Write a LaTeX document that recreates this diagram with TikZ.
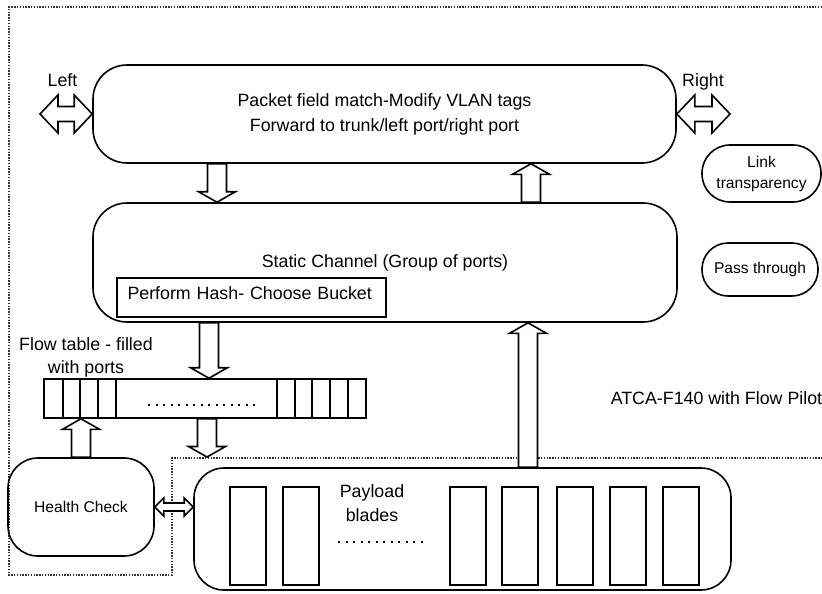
\documentclass[tikz,border=0pt]{standalone}
\usepackage{fontspec}
\setmainfont{Liberation Sans}
\usetikzlibrary{calc,positioning}

\newcommand{\bodyfont}{\fontsize{8.9pt}{12.5pt}\selectfont}
\newcommand{\smallfont}{\fontsize{7.8pt}{10.5pt}\selectfont}

% hollow vertical block arrow: #1 tail, #2 tip
\newcommand{\vblock}[2]{%
  \draw[blockarrow] let \p1=(#1), \p2=(#2), \n1={sign(\y2-\y1)} in
    (\x1-4.75pt,\y1) -- (\x1-4.75pt,\y2-\n1*5.25pt) -- (\x1-9.25pt,\y2-\n1*5.25pt)
    -- (\x1,\y2) -- (\x1+9.25pt,\y2-\n1*5.25pt) -- (\x1+4.75pt,\y2-\n1*5.25pt)
    -- (\x1+4.75pt,\y1) -- cycle;}

% hollow horizontal double arrow: #1 left end, #2 right end,
% #3 head half height, #4 shaft half height, #5 head length
\newcommand{\hdouble}[5]{%
  \draw[blockarrow] let \p1=(#1), \p2=(#2) in
    (\x1,\y1) -- (\x1+#5,\y1+#3) -- (\x1+#5,\y1+#4) -- (\x2-#5,\y1+#4)
    -- (\x2-#5,\y1+#3) -- (\x2,\y1) -- (\x2-#5,\y1-#3) -- (\x2-#5,\y1-#4)
    -- (\x1+#5,\y1-#4) -- (\x1+#5,\y1-#3) -- cycle;}

\begin{document}
\begin{tikzpicture}[
    x=0.5pt, y=-0.5pt,
    font=\bodyfont,
    line width=0.8pt,
    box/.style={draw, rounded corners=17pt, inner sep=0pt, align=center},
    pill/.style={draw, rounded corners=14pt, inner sep=0pt, align=center, font=\smallfont},
    blockarrow/.style={draw, fill=white, line join=miter},
    chassis/.style={gray!40!black, line width=0.8pt, dash pattern=on 0.7pt off 0.7pt},
    dotrow/.style={line width=1pt, dash pattern=on 1pt off 2.75pt},
    blade/.style={draw, minimum width=18pt, minimum height=49pt, inner sep=0pt}
]
    \useasboundingbox (0,0) rectangle (822,593);

    % --- chassis outline (dotted) ---
    \draw[chassis] (822,7) -- (9,7) -- (9,575) -- (172,575) -- (172,458) -- (822,458);

    % --- main blocks ---
    \node[box, minimum width=291.5pt, minimum height=49pt] (packet) at (384.5,114)
        {Packet field match-Modify VLAN tags\\Forward to trunk/left port/right port};
    \node[box, minimum width=292pt, minimum height=59.5pt] (static) at (385,262.5)
        {Static Channel (Group of ports)};
    \node[draw, inner xsep=5.25pt, inner ysep=0pt, text width=124pt,
          text height=10.5pt, text depth=9pt, align=left] (hash) at (251.5,297.5)
        {Perform Hash- Choose Bucket};

    % flow table with its cells
    \node[draw, minimum width=161pt, minimum height=19.5pt, inner sep=0pt] (flow) at (205,398.5) {};
    \foreach \cx in {63,80,98,116,277,295,312,330,348}
        \draw (\cx,379) -- (\cx,418);
    \draw[dotrow] (148,405) -- (260,405);

    \node[box, rounded corners=15pt, minimum width=73pt, minimum height=49pt,
          font=\smallfont] (health) at (81,507) {Health Check};
    \node[box, rounded corners=15pt, minimum width=268.5pt, minimum height=61pt] (payload) at (462.5,529) {};

    % payload blades
    \foreach \bx [count=\i] in {248,301,468,520,575,628,681}
        \node[blade] (blade\i) at (\bx,536) {};
    \draw[dotrow] (338,542) -- (425,542);

    % side boxes
    \node[pill, minimum width=59.5pt, minimum height=28.5pt] (link) at (761.5,173.5) {Link\\transparency};
    \node[pill, rounded corners=13pt, minimum width=58pt, minimum height=26.5pt] (pass) at (760,269.5) {Pass through};

    % --- labels ---
    \node (leftlbl) at (62.5,80) {Left};
    \node (rightlbl) at (703,82) {Right};
    \node[align=center, font=\fontsize{8.9pt}{11.5pt}\selectfont] (flowlbl) at (86,357)
        {Flow table - filled\\with ports};
    \node[align=center, font=\fontsize{8.9pt}{12pt}\selectfont] (payloadlbl) at (372,503)
        {Payload\\blades};
    \node[anchor=west, inner sep=0pt] (atca) at (610,398) {ATCA-F140 with Flow Pilot};

    % --- block arrows ---
    \coordinate (leftEnd)  at (40,114);
    \coordinate (rightEnd) at (730,114);
    \coordinate (downA) at (217,0);
    \coordinate (upA)   at (531,0);
    \coordinate (downB) at (209,0);
    \coordinate (downC) at (207,0);
    \coordinate (downCtip) at (207,457);
    \coordinate (upB)   at (528,0);

    % 1. left / right ports
    \hdouble{leftEnd}{packet.west}{9.5pt}{3.75pt}{9pt}
    \hdouble{packet.east}{rightEnd}{9.5pt}{3.75pt}{9pt}

    % 2. between the two top blocks
    \vblock{packet.south -| downA}{static.north -| downA}
    \vblock{static.north -| upA}{packet.south -| upA}

    % 3. hashing into the flow table, and out to the blades
    \vblock{static.south -| downB}{flow.north -| downB}
    \vblock{flow.south -| downC}{downCtip}
    \vblock{payload.north -| upB}{static.south -| upB}

    % 4. health check
    \vblock{health.north}{flow.south -| health.north}
    \hdouble{health.east}{health.east -| payload.west}{4.5pt}{2pt}{4.5pt}
\end{tikzpicture}
\end{document}
